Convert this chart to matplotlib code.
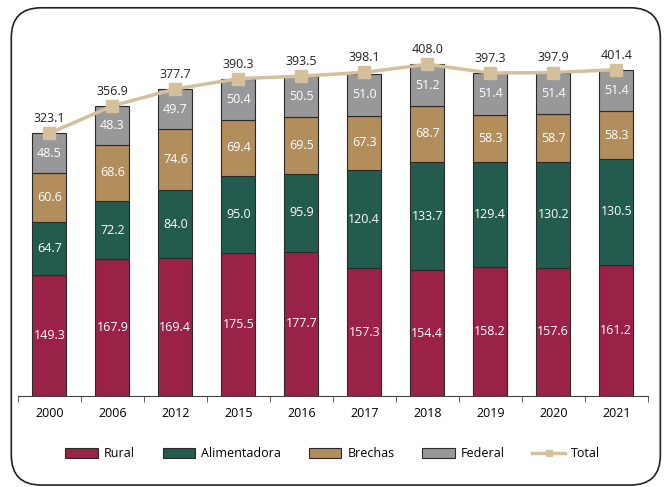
import numpy as np
import matplotlib.pyplot as plt
from matplotlib.patches import FancyBboxPatch
from matplotlib.lines import Line2D

# datos
years = ['2000', '2006', '2012', '2015', '2016', '2017', '2018', '2019', '2020', '2021']
rural = [149.3, 167.9, 169.4, 175.5, 177.7, 157.3, 154.4, 158.2, 157.6, 161.2]
alimentadora = [64.7, 72.2, 84.0, 95.0, 95.9, 120.4, 133.7, 129.4, 130.2, 130.5]
brechas = [60.6, 68.6, 74.6, 69.4, 69.5, 67.3, 68.7, 58.3, 58.7, 58.3]
federal = [48.5, 48.3, 49.7, 50.4, 50.5, 51.0, 51.2, 51.4, 51.4, 51.4]
total = [323.1, 356.9, 377.7, 390.3, 393.5, 398.1, 408.0, 397.3, 397.9, 401.4]

plt.rcParams['font.family'] = ['Open Sans', 'DejaVu Sans']

fig = plt.figure(figsize=(6.65, 4.87), dpi=100)

# marco redondeado
frame = FancyBboxPatch((0.017, 0.004), 0.976, 0.98, boxstyle='round,pad=0,rounding_size=0.045',
                       transform=fig.transFigure, facecolor='white', edgecolor='#222222',
                       linewidth=1.2, mutation_aspect=665 / 487, zorder=-10)
fig.patches.append(frame)

ax = fig.add_axes([0.027, 0.187, 0.947, 0.751])
ax.set_facecolor('none')

x = np.arange(len(years))
w = 0.54
series = [('Rural', rural, '#9B2247'), ('Alimentadora', alimentadora, '#235B4E'),
          ('Brechas', brechas, '#B38E5D'), ('Federal', federal, '#98989A')]
bottom = np.zeros(len(years))
handles = []
for name, vals, col in series:
    vals = np.array(vals)
    b = ax.bar(x, vals, w, bottom=bottom, color=col, edgecolor='#2a2a2a', linewidth=0.8, label=name)
    handles.append(b)
    for xi, b0, v in zip(x, bottom, vals):
        ax.text(xi, b0 + v / 2, f'{v:.1f}', ha='center', va='center', color='white', fontsize=9)
    bottom += vals

ax.plot(x, total, color='#D4C19C', linewidth=2.5, marker='s', markersize=9, zorder=5)
for xi, t in zip(x, total):
    ax.text(xi, t + 10, f'{t:.1f}', ha='center', va='bottom', color='#222222', fontsize=9)
handles.append(Line2D([], [], color='#D4C19C', linewidth=2.5, marker='s', markersize=4, label='Total'))

ax.set_xlim(-0.5, len(years) - 0.5)
ax.set_ylim(0, 450)
ax.set_yticks([])
for s in ['top', 'right', 'left']:
    ax.spines[s].set_visible(False)
ax.spines['bottom'].set_color('#444444')
ax.set_xticks(x)
ax.set_xticklabels(years, fontsize=9)
ax.tick_params(axis='x', length=0, pad=8)
ax.set_xticks(np.arange(-0.5, len(years)), minor=True)
ax.tick_params(axis='x', which='minor', length=4, color='#444444')

ax.legend(handles=handles, loc='upper center', bbox_to_anchor=(0.5, -0.11), ncol=5, frameon=False,
          fontsize=9, handlelength=2.6, handleheight=0.8, handletextpad=0.5, columnspacing=2.2)

fig.savefig('out.png', dpi=100)
